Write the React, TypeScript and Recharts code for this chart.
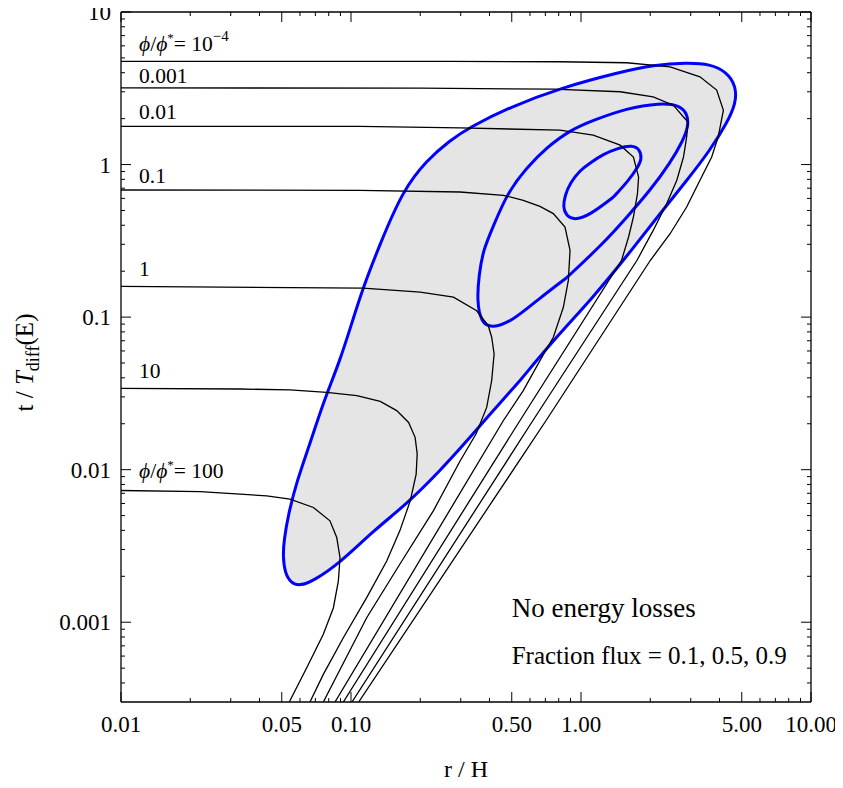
import React from "react";
import { ComposedChart, Line, Area, XAxis, YAxis, Customized } from "recharts";

const FONT = "'Liberation Serif', 'Times New Roman', serif";

// [r/H, t/Tdiff]
const phiE4 = [[0.01, 4.75], [0.269, 4.74], [0.81, 4.72], [1.58, 4.65], [2.44, 4.37], [3.29, 3.76], [3.89, 3.08], [4.16, 2.27], [3.95, 1.52], [3.7, 1.12], [3.29, 0.789], [2.88, 0.527], [2.44, 0.352], [2.0, 0.235], [0.705, 0.021], [0.108, 0.0003]];
const phiE3 = [[0.01, 3.18], [0.2, 3.17], [0.758, 3.12], [1.48, 3.0], [2.06, 2.78], [2.52, 2.45], [2.79, 2.05], [2.92, 1.9], [2.88, 1.52], [2.79, 1.12], [2.61, 0.789], [2.36, 0.555], [2.06, 0.37], [1.75, 0.235], [0.618, 0.021], [0.101, 0.0003]];
const phiE2 = [[0.01, 1.78], [0.109, 1.78], [0.298, 1.74], [0.81, 1.68], [1.13, 1.56], [1.48, 1.34], [1.69, 1.12], [1.78, 0.829], [1.76, 0.645], [1.69, 0.453], [1.61, 0.335], [1.5, 0.235], [0.543, 0.021], [0.0926, 0.0003]];
const phiE1 = [[0.01, 0.681], [0.109, 0.678], [0.298, 0.661], [0.46, 0.629], [0.561, 0.583], [0.663, 0.532], [0.758, 0.477], [0.852, 0.389], [0.896, 0.274], [0.881, 0.174], [0.838, 0.116], [0.758, 0.0738], [0.663, 0.0519], [0.561, 0.033], [0.46, 0.021], [0.0852, 0.0003]];
const phi1 = [[0.01, 0.159], [0.113, 0.155], [0.2, 0.146], [0.279, 0.135], [0.352, 0.11], [0.395, 0.0881], [0.409, 0.0738], [0.419, 0.0574], [0.409, 0.0384], [0.389, 0.0256], [0.35, 0.0172], [0.298, 0.0114], [0.228, 0.00537], [0.163, 0.0024], [0.117, 0.00107], [0.0758, 0.0003]];
const phi10 = [[0.01, 0.0341], [0.0329, 0.0338], [0.0543, 0.0333], [0.0784, 0.0321], [0.106, 0.0306], [0.134, 0.028], [0.158, 0.0244], [0.178, 0.0204], [0.19, 0.0163], [0.194, 0.0127], [0.192, 0.00936], [0.181, 0.00625], [0.163, 0.00397], [0.143, 0.00252], [0.117, 0.00145], [0.0926, 0.000791], [0.0758, 0.000455], [0.0663, 0.0003]];
const phi100 = [[0.01, 0.0073], [0.0221, 0.00719], [0.0329, 0.00691], [0.043, 0.00674], [0.0543, 0.00641], [0.0686, 0.00565], [0.081, 0.00462], [0.0867, 0.00359], [0.0896, 0.00265], [0.0881, 0.00186], [0.0838, 0.00124], [0.0758, 0.000833], [0.0642, 0.000503], [0.0539, 0.0003]];

// fraction flux contours (closed)
const flux01 = [[0.543, 0.0384], [0.39, 0.0219], [0.32, 0.0155], [0.244, 0.00984], [0.175, 0.00597], [0.125, 0.00397], [0.0896, 0.00245], [0.0684, 0.00186], [0.06, 0.00173], [0.0548, 0.00181], [0.0516, 0.0021], [0.0506, 0.00272], [0.0511, 0.00341], [0.0532, 0.00498], [0.0582, 0.00846], [0.0663, 0.0148], [0.0763, 0.0284], [0.0896, 0.0519], [0.101, 0.0922], [0.113, 0.157], [0.134, 0.304], [0.168, 0.678], [0.214, 1.07], [0.269, 1.44], [0.329, 1.76], [0.491, 2.38], [0.81, 3.17], [1.48, 4.04], [2.06, 4.49], [2.89, 4.66], [3.64, 4.56], [4.31, 4.04], [4.72, 3.27], [4.72, 2.53], [4.31, 1.87], [3.64, 1.24], [2.89, 0.789], [2.21, 0.479], [1.58, 0.25], [1.13, 0.135], [0.756, 0.0702], [0.543, 0.0384]];
const flux05 = [[0.869, 0.182], [0.644, 0.129], [0.506, 0.095], [0.41, 0.0841], [0.367, 0.0922], [0.353, 0.129], [0.36, 0.188], [0.375, 0.274], [0.414, 0.388], [0.477, 0.648], [0.582, 0.96], [0.712, 1.3], [0.896, 1.68], [1.13, 1.95], [1.58, 2.34], [2.21, 2.53], [2.69, 2.45], [2.92, 2.11], [2.92, 1.76], [2.78, 1.44], [2.44, 1.02], [2.0, 0.678], [1.58, 0.451], [1.25, 0.304], [0.869, 0.182]];
const flux09 = [[1.38, 0.61], [1.09, 0.465], [0.932, 0.431], [0.861, 0.465], [0.835, 0.524], [0.852, 0.629], [0.896, 0.754], [0.99, 0.918], [1.09, 1.02], [1.25, 1.17], [1.45, 1.28], [1.67, 1.34], [1.8, 1.26], [1.84, 1.1], [1.77, 0.96], [1.6, 0.777], [1.38, 0.61]];

const xMajor = [0.01, 0.05, 0.1, 0.5, 1, 5, 10];
const xMajorText = ["0.01", "0.05", "0.10", "0.50", "1.00", "5.00", "10.00"];
const xMinor = [0.02, 0.03, 0.04, 0.06, 0.07, 0.08, 0.09, 0.2, 0.3, 0.4, 0.6, 0.7, 0.8, 0.9, 2, 3, 4, 6, 7, 8, 9];
const yMajor = [0.001, 0.01, 0.1, 1, 10];
const yMajorText = ["0.001", "0.01", "0.1", "1", "10"];
const yMinor = [
  0.0004, 0.0005, 0.0006, 0.0007, 0.0008, 0.0009,
  0.002, 0.003, 0.004, 0.005, 0.006, 0.007, 0.008, 0.009,
  0.02, 0.03, 0.04, 0.05, 0.06, 0.07, 0.08, 0.09,
  0.2, 0.3, 0.4, 0.5, 0.6, 0.7, 0.8, 0.9,
  2, 3, 4, 5, 6, 7, 8, 9,
];

const blackCurves = [phiE4, phiE3, phiE2, phiE1, phi1, phi10, phi100];
const blueCurves = [flux01, flux05, flux09];

const toPts = (a: number[][]) => a.map(([x, y]) => ({ x, y }));

const MAJOR = 10;
const MINOR = 4;

const BottomTick = (p: any) => {
  const i = xMajor.indexOf(p.payload.value);
  return (
    <g>
      <line x1={p.x} x2={p.x} y1={p.y} y2={p.y - (i >= 0 ? MAJOR : MINOR)} stroke="#000" />
      {i >= 0 && (
        <text x={p.x} y={p.y + 30} textAnchor="middle" fontSize={23} fontFamily={FONT} fill="#000">
          {xMajorText[i]}
        </text>
      )}
    </g>
  );
};

const TopTick = (p: any) => {
  const i = xMajor.indexOf(p.payload.value);
  return <line x1={p.x} x2={p.x} y1={p.y} y2={p.y + (i >= 0 ? MAJOR : MINOR)} stroke="#000" />;
};

const LeftTick = (p: any) => {
  const i = yMajor.indexOf(p.payload.value);
  return (
    <g>
      <line x1={p.x} x2={p.x + (i >= 0 ? MAJOR : MINOR)} y1={p.y} y2={p.y} stroke="#000" />
      {i >= 0 && (
        <text x={p.x - 10} y={p.y + 8} textAnchor="end" fontSize={23} fontFamily={FONT} fill="#000">
          {yMajorText[i]}
        </text>
      )}
    </g>
  );
};

const RightTick = (p: any) => {
  const i = yMajor.indexOf(p.payload.value);
  return <line x1={p.x} x2={p.x - (i >= 0 ? MAJOR : MINOR)} y1={p.y} y2={p.y} stroke="#000" />;
};

const Phi = () => <tspan fontStyle="italic">ϕ</tspan>;

const Annotations = () => (
  <g fontFamily={FONT} fill="#000">
    <text x={139} y={51} fontSize={21.5}>
      <Phi />/<Phi />
      <tspan dy={-9} fontSize={13}>*</tspan>
      <tspan dy={9}>= 10</tspan>
      <tspan dy={-10} fontSize={15}>−4</tspan>
    </text>
    <text x={139} y={83.3} fontSize={21.5}>0.001</text>
    <text x={139} y={119} fontSize={21.5}>0.01</text>
    <text x={139} y={183} fontSize={21.5}>0.1</text>
    <text x={139} y={276} fontSize={21.5}>1</text>
    <text x={139} y={377.7} fontSize={21.5}>10</text>
    <text x={139} y={477.7} fontSize={21.5}>
      <Phi />/<Phi />
      <tspan dy={-9} fontSize={13}>*</tspan>
      <tspan dy={9}>= 100</tspan>
    </text>
    <text x={511.7} y={617.3} fontSize={27}>No energy losses</text>
    <text x={511.7} y={664} fontSize={25}>Fraction flux = 0.1, 0.5, 0.9</text>
    <text x={466} y={776.5} fontSize={24} textAnchor="middle">r / H</text>
    <text x={33} y={362.5} fontSize={25} textAnchor="middle" transform="rotate(-90, 33, 362.5)">
      t / <tspan fontStyle="italic">T</tspan>
      <tspan dy={6} fontSize={18}>diff</tspan>
      <tspan dy={-6}>(E)</tspan>
    </text>
  </g>
);

const axisLine = { stroke: "#000", strokeWidth: 1.3 };

export default function App() {
  return (
    <div style={{ margin: -8 }}>
      <ComposedChart width={843} height={788} margin={{ top: 11, right: 31, bottom: 5, left: 0 }}>
        <XAxis
          xAxisId="b"
          dataKey="x"
          type="number"
          scale="log"
          domain={[0.01, 10]}
          allowDataOverflow
          ticks={[...xMajor, ...xMinor]}
          interval={0}
          tickSize={0}
          tickMargin={0}
          tickLine={false}
          tick={BottomTick}
          axisLine={axisLine}
          height={81}
        />
        <XAxis
          xAxisId="t"
          orientation="top"
          dataKey="x"
          type="number"
          scale="log"
          domain={[0.01, 10]}
          allowDataOverflow
          ticks={[...xMajor, ...xMinor]}
          interval={0}
          tickSize={0}
          tickMargin={0}
          tickLine={false}
          tick={TopTick}
          axisLine={axisLine}
          height={1}
        />
        <YAxis
          yAxisId="l"
          dataKey="y"
          type="number"
          scale="log"
          domain={[0.0003, 10]}
          allowDataOverflow
          ticks={[...yMajor, ...yMinor]}
          interval={0}
          tickSize={0}
          tickMargin={0}
          tickLine={false}
          tick={LeftTick}
          axisLine={axisLine}
          width={121}
        />
        <YAxis
          yAxisId="r"
          orientation="right"
          dataKey="y"
          type="number"
          scale="log"
          domain={[0.0003, 10]}
          allowDataOverflow
          ticks={[...yMajor, ...yMinor]}
          interval={0}
          tickSize={0}
          tickMargin={0}
          tickLine={false}
          tick={RightTick}
          axisLine={axisLine}
          width={1}
        />
        <Area
          xAxisId="b"
          yAxisId="l"
          data={toPts(flux01)}
          dataKey="y"
          type="basis"
          baseValue={0.01}
          fill="#e5e5e5"
          fillOpacity={1}
          stroke="none"
          isAnimationActive={false}
          activeDot={false}
        />
        {blueCurves.map((c, i) => (
          <Line
            key={"b" + i}
            xAxisId="b"
            yAxisId="l"
            data={toPts(c)}
            dataKey="y"
            type="basis"
            stroke="#0000ff"
            strokeWidth={3}
            dot={false}
            activeDot={false}
            isAnimationActive={false}
          />
        ))}
        {blackCurves.map((c, i) => (
          <Line
            key={"k" + i}
            xAxisId="b"
            yAxisId="l"
            data={toPts(c)}
            dataKey="y"
            type="linear"
            stroke="#000"
            strokeWidth={1.3}
            dot={false}
            activeDot={false}
            isAnimationActive={false}
          />
        ))}
        <Customized component={Annotations} />
      </ComposedChart>
    </div>
  );
}
